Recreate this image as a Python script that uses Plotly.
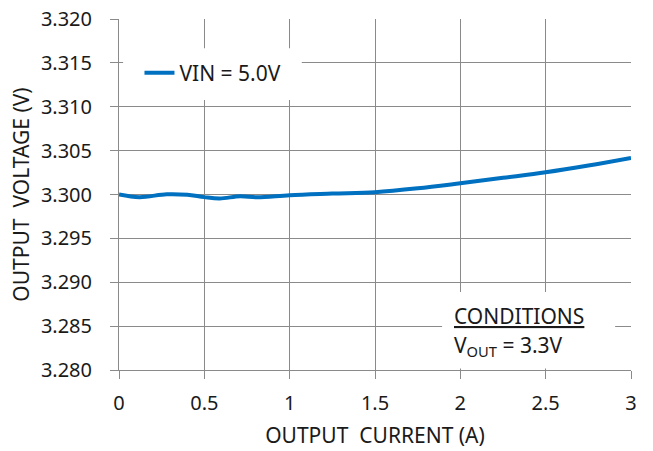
import plotly.graph_objects as go

# output current (A) vs output voltage (V), VIN = 5.0V
current = [0.0, 0.12, 0.28, 0.40, 0.50, 0.59, 0.71, 0.81, 1.0, 1.25, 1.5, 1.75, 2.0, 2.25, 2.5, 2.75, 3.0]
vout = [3.3000, 3.2997, 3.30003, 3.29997, 3.2997, 3.29955, 3.2998, 3.29968, 3.29992, 3.3001, 3.30026,
        3.3007, 3.30128, 3.3019, 3.30253, 3.3033, 3.30417]

x_ticks = [0, 0.5, 1, 1.5, 2, 2.5, 3]
x_labels = ["0", "0.5", "1", "1.5", "2", "2.5", "3"]
y_ticks = [3.280, 3.285, 3.290, 3.295, 3.300, 3.305, 3.310, 3.315, 3.320]
y_labels = [f"{v:.3f}" for v in y_ticks]

GRID = "#8a8a8a"
INK = "#1a1a1a"
FONT = "Noto Sans"

fig = go.Figure()
fig.add_scatter(
    x=current, y=vout, mode="lines", name="VIN = 5.0V",
    line=dict(color="#0070c0", width=4, shape="spline", smoothing=1.0),
)

axis = dict(
    showgrid=True, gridcolor=GRID, gridwidth=1,
    showline=True, linecolor=GRID, linewidth=1,
    ticks="outside", ticklen=8, tickcolor=GRID, tickwidth=1,
    zeroline=False, automargin=False, ticklabeloverflow="allow",
    tickfont=dict(size=20, color=INK, family=FONT),
)

fig.update_layout(
    width=653, height=451,
    margin=dict(l=119, r=22, t=19, b=81),
    paper_bgcolor="white", plot_bgcolor="white",
    font=dict(family=FONT, color=INK),
    xaxis=dict(axis, range=[0, 3], tickvals=x_ticks, ticktext=x_labels, ticklabelstandoff=7,
               title=dict(text="OUTPUT  CURRENT (A)", font=dict(size=21), standoff=13)),
    yaxis=dict(axis, range=[3.280, 3.320], tickvals=y_ticks, ticktext=y_labels, ticklabelstandoff=14,
               title=dict(text="OUTPUT  VOLTAGE (V)", font=dict(size=21), standoff=5)),
    legend=dict(x=0.04, y=0.846, xanchor="left", yanchor="middle", bgcolor="rgba(0,0,0,0)",
                font=dict(size=21), borderwidth=0),
    showlegend=True,
)

# white boxes behind the legend and the conditions note (hide the gridlines)
for x0, x1, y0, y1 in [(0.008, 0.357, 0.769, 0.917), (0.631, 0.969, 0.004, 0.222)]:
    fig.add_shape(type="rect", xref="x domain", yref="y domain", x0=x0, x1=x1, y0=y0, y1=y1,
                  fillcolor="white", line_width=0, layer="above")

fig.add_annotation(
    xref="paper", yref="paper", x=0.65, y=0.154, xanchor="left", yanchor="middle",
    text="<u>CONDITIONS</u>", showarrow=False, font=dict(size=21, color=INK),
)
fig.add_annotation(
    xref="paper", yref="paper", x=0.65, y=0.068, xanchor="left", yanchor="middle",
    text="V<sub>OUT</sub> = 3.3V", showarrow=False, font=dict(size=21, color=INK),
)

# drop the default body margin so the 653x451 figure sits flush in the window
fig.write_html("out.html", config={"displayModeBar": False},
               post_script="document.body.style.margin = '0';")
